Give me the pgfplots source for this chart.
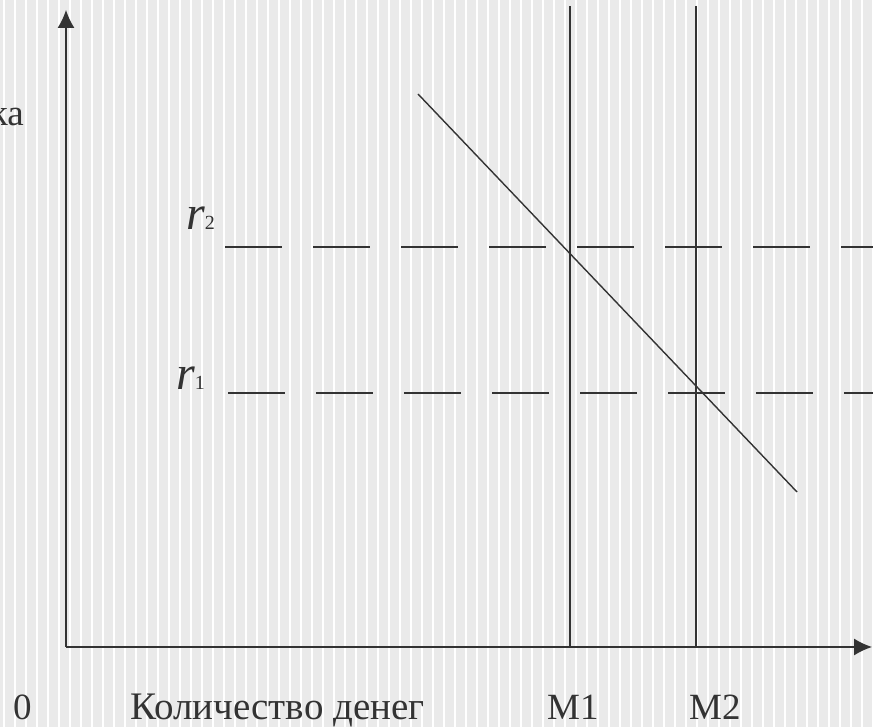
\documentclass[border=0pt]{standalone}
\usepackage{fontspec}
\setmainfont{Liberation Serif}
\newfontfamily\tms{Liberation Serif}
\usepackage{pgfplots}
\pgfplotsset{compat=1.18}
\usetikzlibrary{arrows.meta}

\definecolor{ink}{HTML}{333333}
\definecolor{paper}{HTML}{EAEAEA}

\begin{document}
\begin{tikzpicture}[font=\tms]
  \path[use as bounding box] (0,0) rectangle (873pt,727pt);
  \clip (0,0) rectangle (873pt,727pt);
  % scanned background with light vertical stripes
  \fill[paper] (0,0) rectangle (873pt,727pt);
  \foreach \i in {0,...,79} {
    \fill[white] (3pt+\i*11pt,0) rectangle (5pt+\i*11pt,727pt);
  }
  \begin{axis}[
      at={(0,0)}, anchor=south west,
      scale only axis,
      width=873pt, height=727pt,
      xmin=0, xmax=873, ymin=0, ymax=727,
      hide axis,
      clip=false,
      every axis plot/.append style={ink, line width=1.3pt},
    ]
    % axes
    \addplot[-{Latex[length=18pt,width=17pt]}] coordinates {(66,80) (66,717)};
    \addplot[-{Latex[length=18pt,width=17pt]}] coordinates {(66,80) (872,80)};
    % M1, M2
    \addplot[line width=1.1pt] coordinates {(570,721) (570,80)};
    \addplot[line width=1.1pt] coordinates {(696,721) (696,80)};
    % r2, r1
    \addplot[line width=1.1pt, dash pattern=on 57pt off 31pt] coordinates {(225,480) (873,480)};
    \addplot[line width=1.1pt, dash pattern=on 57pt off 31pt] coordinates {(228,334) (873,334)};
    % demand curve
    \addplot[line width=1.4pt] coordinates {(418,633) (797,235)};

    \node[anchor=base east, text=ink, inner sep=0pt, font=\tms\fontsize{37}{40}\selectfont] at (axis cs:24,601) {ка};
    \node[anchor=base west, text=ink, inner sep=0pt] at (axis cs:186,497)
      {{\tms\fontsize{48}{50}\selectfont\itshape r}{\tms\fontsize{20}{22}\selectfont 2}};
    \node[anchor=base west, text=ink, inner sep=0pt] at (axis cs:176,337)
      {{\tms\fontsize{48}{50}\selectfont\itshape r}{\tms\fontsize{20}{22}\selectfont 1}};
    \begin{scope}[every node/.style={anchor=base west, text=ink, inner sep=0pt, font=\tms\fontsize{37}{40}\selectfont}]
      \node at (axis cs:13,7) {0};
      \node[font=\tms\fontsize{39}{42}\selectfont] at (axis cs:130,7) {Количество денег};
      \node at (axis cs:547,7) {M1};
      \node at (axis cs:689,7) {M2};
    \end{scope}
  \end{axis}
\end{tikzpicture}
\end{document}
